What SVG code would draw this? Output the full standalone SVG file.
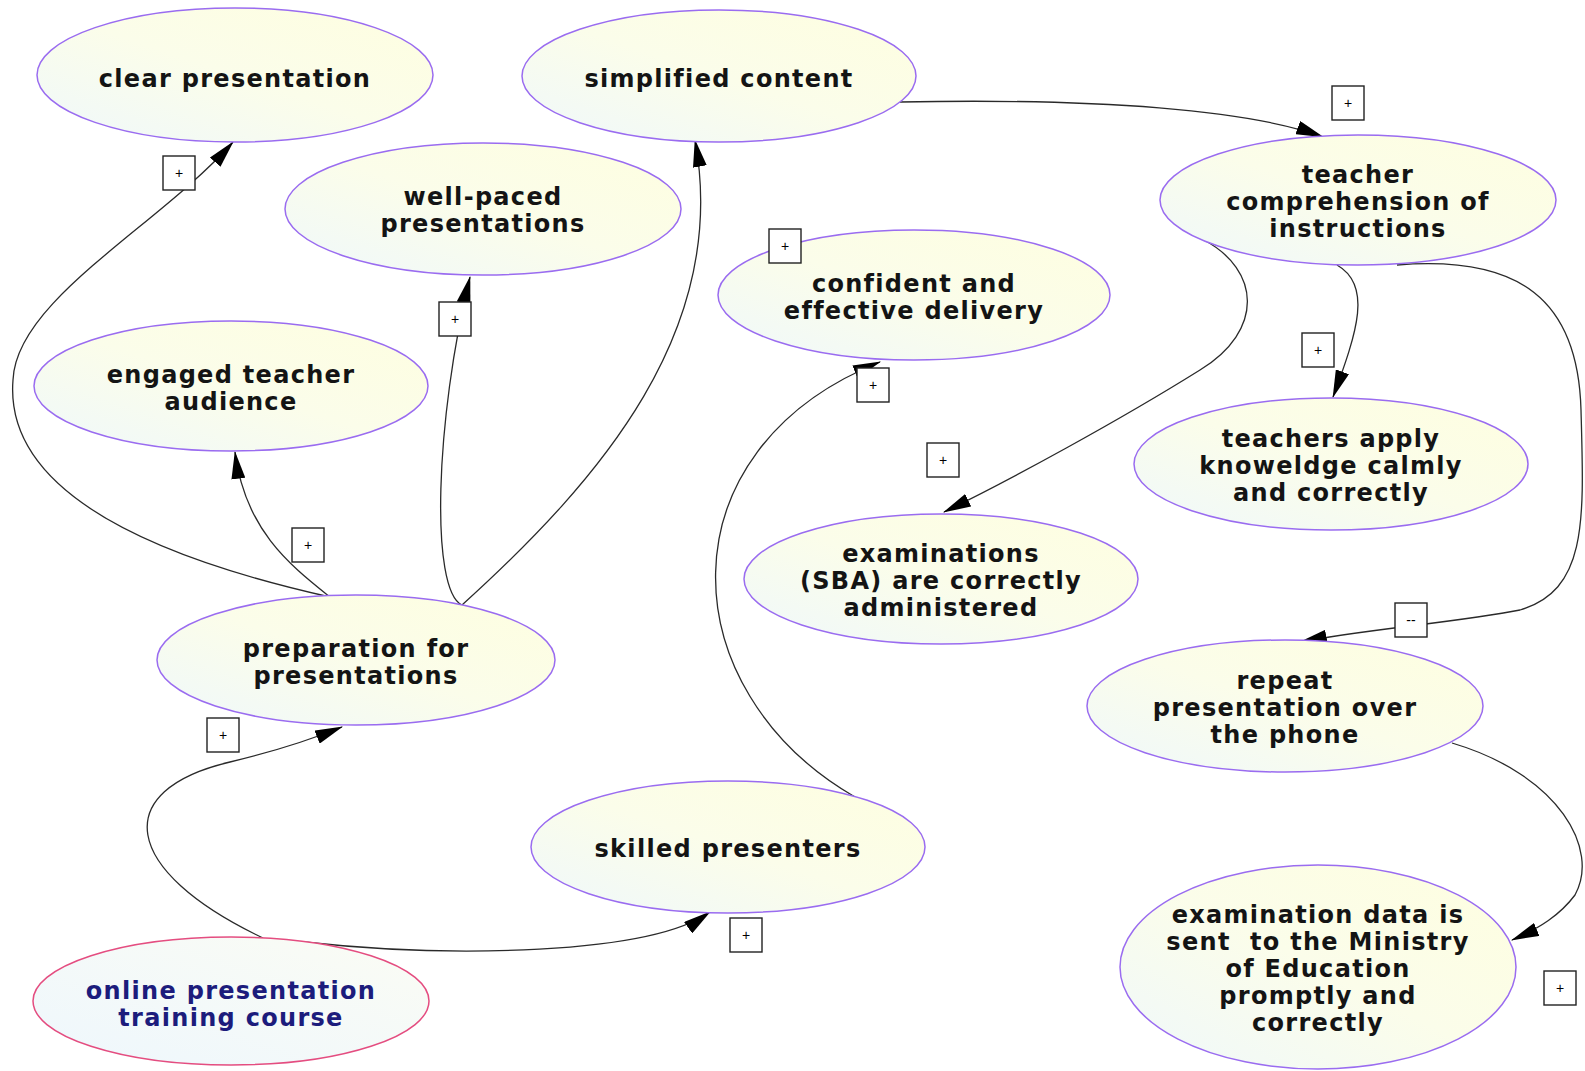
<svg xmlns="http://www.w3.org/2000/svg" width="1585" height="1071" viewBox="0 0 1585 1071">
<defs>
<linearGradient id="fillN" x1="0" y1="1" x2="1" y2="0">
<stop offset="0" stop-color="#eff8fb"/>
<stop offset="0.5" stop-color="#fbfdea"/>
<stop offset="1" stop-color="#fefee0"/>
</linearGradient>
<linearGradient id="fillO" x1="0" y1="1" x2="1" y2="0">
<stop offset="0" stop-color="#eef7fd"/>
<stop offset="1" stop-color="#fbfcf4"/>
</linearGradient>
<marker id="arr" markerUnits="userSpaceOnUse" markerWidth="28" markerHeight="14" viewBox="0 0 26 13" refX="25" refY="6.5" orient="auto">
<path d="M0,0 L26,6.5 L0,13 z" fill="#000"/>
</marker>
</defs>
<style>
.node ellipse{fill:url(#fillN);stroke:#9a6cf0;stroke-width:1.5}
.node text{font-family:"DejaVu Sans","Liberation Sans",sans-serif;font-weight:bold;font-size:24px;letter-spacing:1.3px;fill:#141414;text-anchor:middle}
#n_online ellipse{fill:url(#fillO);stroke:#e44d80}
#n_online text{fill:#1c1c7c}
.edge{fill:none;stroke:#2a2a2a;stroke-width:1.3;marker-end:url(#arr)}
.lbl rect{fill:#fff;stroke:#222;stroke-width:1.4}
.lbl text{font-family:"Liberation Sans",Arial,sans-serif;font-size:14px;fill:#000;text-anchor:middle}
</style>
<rect width="1585" height="1071" fill="#fff"/>
<g id="connectors">
<path class="edge" d="M330 597 C120 550 5 480 13 380 C16 300 160 225 233 142"/>
<path class="edge" d="M330 597 C290 565 245 530 235 452"/>
<path class="edge" d="M462 605 C430 590 435 420 470 277"/>
<path class="edge" d="M462 605 C600 480 730 330 695 140"/>
<path class="edge" d="M900 102 C1100 98 1250 110 1323 137"/>
<path class="edge" d="M1204 240 C1260 270 1265 330 1200 370 C1120 420 1010 480 944 512"/>
<path class="edge" d="M1337 265 C1372 285 1358 330 1333 397"/>
<path class="edge" d="M1397 265 C1520 255 1578 300 1581 410 C1584 520 1588 590 1520 610 C1460 622 1360 630 1300 642"/>
<path class="edge" d="M1452 743 C1560 775 1600 850 1575 895 C1560 915 1540 928 1512 940"/>
<path class="edge" d="M263 938 C120 870 110 790 230 762 C280 750 310 740 342 727"/>
<path class="edge" d="M304 942 C450 958 650 955 710 912"/>
<path class="edge" d="M855 797 C670 690 660 450 880 362"/>
</g>
<g id="n_clear" class="node"><ellipse cx="235" cy="75" rx="198" ry="67"/><text x="235" y="87">clear presentation</text></g>
<g id="n_simplified" class="node"><ellipse cx="719" cy="76" rx="197" ry="66"/><text x="719" y="87">simplified content</text></g>
<g id="n_wellpaced" class="node"><ellipse cx="483" cy="209" rx="198" ry="66"/><text x="483" y="205">well-paced</text><text x="483" y="232">presentations</text></g>
<g id="n_engaged" class="node"><ellipse cx="231" cy="386" rx="197" ry="65"/><text x="231" y="383">engaged teacher</text><text x="231" y="410">audience</text></g>
<g id="n_confident" class="node"><ellipse cx="914" cy="295" rx="196" ry="65"/><text x="914" y="292">confident and</text><text x="914" y="319">effective delivery</text></g>
<g id="n_teachercomp" class="node"><ellipse cx="1358" cy="200" rx="198" ry="65"/><text x="1358" y="183">teacher</text><text x="1358" y="210">comprehension of</text><text x="1358" y="237">instructions</text></g>
<g id="n_apply" class="node"><ellipse cx="1331" cy="464" rx="197" ry="66"/><text x="1331" y="447">teachers apply</text><text x="1331" y="474">knoweldge calmly</text><text x="1331" y="501">and correctly</text></g>
<g id="n_exams" class="node"><ellipse cx="941" cy="579" rx="197" ry="65"/><text x="941" y="562">examinations</text><text x="941" y="589">(SBA) are correctly</text><text x="941" y="616">administered</text></g>
<g id="n_prep" class="node"><ellipse cx="356" cy="660" rx="199" ry="65"/><text x="356" y="657">preparation for</text><text x="356" y="684">presentations</text></g>
<g id="n_repeat" class="node"><ellipse cx="1285" cy="706" rx="198" ry="66"/><text x="1285" y="689">repeat</text><text x="1285" y="716">presentation over</text><text x="1285" y="743">the phone</text></g>
<g id="n_skilled" class="node"><ellipse cx="728" cy="847" rx="197" ry="66"/><text x="728" y="857">skilled presenters</text></g>
<g id="n_examdata" class="node"><ellipse cx="1318" cy="967" rx="198" ry="102"/><text x="1318" y="923">examination data is</text><text x="1318" y="950" xml:space="preserve">sent  to the Ministry</text><text x="1318" y="977">of Education</text><text x="1318" y="1004">promptly and</text><text x="1318" y="1031">correctly</text></g>
<g id="n_online" class="node"><ellipse cx="231" cy="1001" rx="198" ry="64"/><text x="231" y="999">online presentation</text><text x="231" y="1026">training course</text></g>
<g id="edge-labels">
<g class="lbl"><rect x="163" y="156" width="32" height="34"/><text x="179" y="178">+</text></g>
<g class="lbl"><rect x="292" y="528" width="32" height="34"/><text x="308" y="550">+</text></g>
<g class="lbl"><rect x="439" y="302" width="32" height="34"/><text x="455" y="324">+</text></g>
<g class="lbl"><rect x="1332" y="86" width="32" height="34"/><text x="1348" y="108">+</text></g>
<g class="lbl"><rect x="769" y="229" width="32" height="34"/><text x="785" y="251">+</text></g>
<g class="lbl"><rect x="857" y="368" width="32" height="34"/><text x="873" y="390">+</text></g>
<g class="lbl"><rect x="927" y="443" width="32" height="34"/><text x="943" y="465">+</text></g>
<g class="lbl"><rect x="1302" y="333" width="32" height="34"/><text x="1318" y="355">+</text></g>
<g class="lbl"><rect x="1395" y="603" width="32" height="34"/><text x="1411" y="625">--</text></g>
<g class="lbl"><rect x="1544" y="971" width="32" height="34"/><text x="1560" y="993">+</text></g>
<g class="lbl"><rect x="207" y="718" width="32" height="34"/><text x="223" y="740">+</text></g>
<g class="lbl"><rect x="730" y="918" width="32" height="34"/><text x="746" y="940">+</text></g>
</g>
</svg>
